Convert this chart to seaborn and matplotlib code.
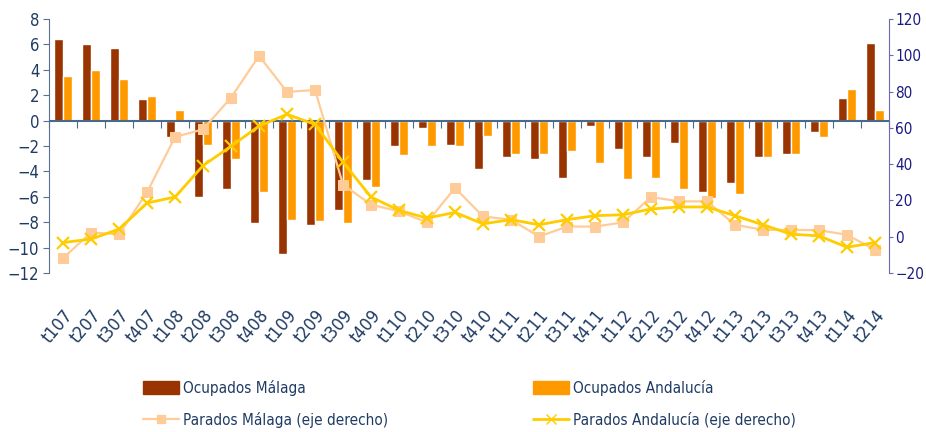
import numpy as np
import pandas as pd
import matplotlib.pyplot as plt
from matplotlib.patches import Patch
from matplotlib.lines import Line2D
import seaborn as sns

# Data
periodos = ['t107', 't207', 't307', 't407', 't108', 't208', 't308', 't408',
            't109', 't209', 't309', 't409', 't110', 't210', 't310', 't410',
            't111', 't211', 't311', 't411', 't112', 't212', 't312', 't412',
            't113', 't213', 't313', 't413', 't114', 't214']

ocupados_malaga = [6.4, 6.0, 5.7, 1.7, -1.3, -6.0, -5.4, -8.1, -10.5, -8.2,
                   -7.0, -4.7, -2.0, -0.6, -1.9, -3.8, -2.9, -3.0, -4.5, -0.4,
                   -2.2, -2.9, -1.8, -5.6, -4.9, -2.9, -2.6, -0.9, 1.8, 6.1]
ocupados_andalucia = [3.5, 4.0, 3.3, 1.9, 0.8, -1.9, -3.0, -5.6, -7.8, -7.9,
                      -8.1, -5.2, -2.7, -2.0, -2.0, -1.2, -2.6, -2.6, -2.4, -3.3,
                      -4.6, -4.5, -5.4, -6.1, -5.8, -2.9, -2.6, -1.3, 2.5, 0.8]
parados_malaga = [-11.8, 2.3, 1.4, 24.5, 55.0, 59.2, 76.7, 99.7, 79.8, 80.9,
                  28.7, 17.7, 14.0, 7.9, 26.9, 11.2, 9.4, 0.1, 5.6, 5.6,
                  7.9, 21.9, 19.5, 19.5, 6.6, 3.8, 3.8, 3.6, 1.1, -7.2]
parados_andalucia = [-3.2, -1.3, 4.2, 18.6, 21.9, 39.2, 49.9, 61.0, 67.5, 61.9,
                     41.1, 21.9, 14.5, 10.3, 13.4, 7.1, 9.4, 6.6, 9.4, 11.6,
                     12.1, 15.3, 16.4, 16.4, 11.6, 6.6, 1.4, 0.5, -5.8, -3.2]

c_om = '#993300'
c_oa = '#FF9900'
c_pm = '#FFCC99'
c_pa = '#FFCC00'
txt_left = '#1F3B64'
txt_right = '#1A1A80'

sns.set_style('white')
plt.rcParams['font.family'] = ['DejaVu Sans']
plt.rcParams['font.stretch'] = 'condensed'

bars = pd.DataFrame({
    'periodo': periodos * 2,
    'valor': ocupados_malaga + ocupados_andalucia,
    'serie': ['Ocupados Málaga'] * len(periodos) + ['Ocupados Andalucía'] * len(periodos),
})
lines = pd.DataFrame({
    'pos': np.arange(len(periodos)),
    'pm': parados_malaga,
    'pa': parados_andalucia,
})

fig = plt.figure(figsize=(9.26, 4.32), dpi=100)
ax = fig.add_axes([0.053, 0.368, 0.907, 0.588])

sns.barplot(data=bars, x='periodo', y='valor', hue='serie', order=periodos,
            palette=[c_om, c_oa], width=0.62, saturation=1, legend=False, ax=ax)

ax.set_ylim(-12, 8)
ax.set_yticks(range(-12, 9, 2))
ax.set_xlim(-0.5, len(periodos) - 0.5)
ax.set_xlabel('')
ax.set_ylabel('')
for s in ['top', 'right', 'bottom']:
    ax.spines[s].set_visible(False)
ax.spines['left'].set_color('#5A7090')
ax.tick_params(axis='y', colors='#5A7090', labelcolor=txt_left, labelsize=12,
               length=4, direction='out', left=True, pad=3)
ax.tick_params(axis='x', length=0, labelsize=13, labelcolor=txt_left, pad=24)
plt.setp(ax.get_xticklabels(), rotation=50, ha='right', rotation_mode='anchor')
ax.axhline(0, color='#4A6A8A', lw=1.5, zorder=3)

# tick marks on the zero line, between categories
zx = ax.secondary_xaxis(0, transform=ax.transData)
zx.set_xticks(np.arange(len(periodos) + 1) - 0.5)
zx.tick_params(length=5, direction='out', color='#4A6A8A', labelbottom=False)
zx.spines['bottom'].set_visible(False)

ax2 = ax.twinx()
sns.lineplot(data=lines, x='pos', y='pm', color=c_pm, lw=1.6, marker='s',
             markersize=7, markeredgecolor=c_pm, ax=ax2)
sns.lineplot(data=lines, x='pos', y='pa', color=c_pa, lw=2, marker='x',
             markersize=9, markeredgewidth=1.6, markeredgecolor=c_pa, ax=ax2)
ax2.set_ylim(-20, 120)
ax2.set_yticks(range(-20, 121, 20))
ax2.set_xlabel('')
ax2.set_ylabel('')
for s in ['top', 'left', 'bottom']:
    ax2.spines[s].set_visible(False)
ax2.spines['right'].set_color('#6A6AB0')
ax2.tick_params(axis='y', colors='#6A6AB0', labelcolor=txt_right, labelsize=11,
                length=3, direction='out', right=True, pad=1.5)

handles = [
    Patch(color=c_om, label='Ocupados Málaga'),
    Line2D([], [], color=c_pm, lw=1.6, marker='s', markersize=6, label='Parados Málaga (eje derecho)'),
    Patch(color=c_oa, label='Ocupados Andalucía'),
    Line2D([], [], color=c_pa, lw=2, marker='x', markersize=7, label='Parados Andalucía (eje derecho)'),
]
leg = fig.legend(handles=handles, ncol=2, loc='upper left', bbox_to_anchor=(0.1544, 0.12),
                 frameon=False, fontsize=11, handlelength=2.35, handleheight=0.95,
                 handletextpad=0.26, columnspacing=9.5, labelspacing=1.05,
                 borderpad=0, borderaxespad=0)
for t in leg.get_texts():
    t.set_color(txt_left)

fig.savefig('out.png', dpi=100)
